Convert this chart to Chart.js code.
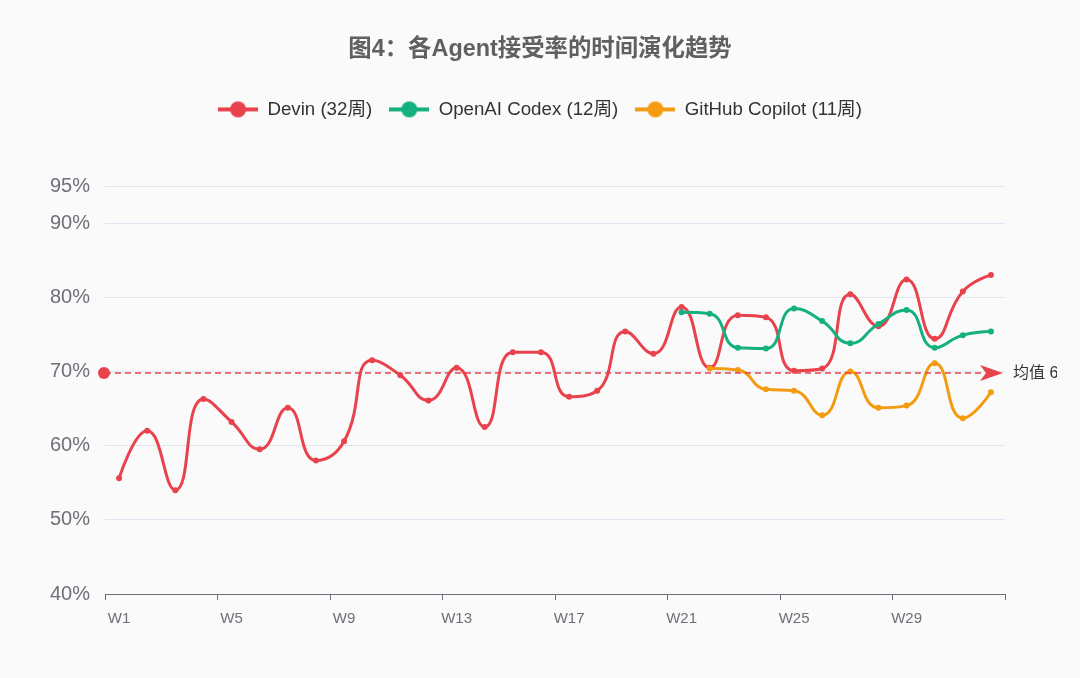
<!DOCTYPE html>
<html>
<head>
<meta charset="utf-8">
<script src="https://cdn.jsdelivr.net/npm/chart.js@4.4.1/dist/chart.umd.min.js"></script>
<style>
html, body { margin: 0; padding: 0; background: #fafafa; }
#wrap { width: 1080px; height: 678px; position: relative; }
</style>
</head>
<body>
<div id="wrap"><canvas id="c" width="1080" height="678"></canvas></div>
<script>
const FONT = "'Liberation Sans', 'Noto Sans CJK SC', sans-serif";

// ---- data ----
const weeks = ['W1','W2','W3','W4','W5','W6','W7','W8','W9','W10','W11','W12','W13','W14','W15','W16',
               'W17','W18','W19','W20','W21','W22','W23','W24','W25','W26','W27','W28','W29','W30','W31','W32'];
const devinRate = [55.6, 62.0, 54.0, 66.3, 63.2, 59.5, 65.1, 58.0, 60.6, 71.5, 69.5, 66.1, 70.5, 62.5, 72.6, 72.6,
                   66.6, 67.4, 75.4, 72.4, 78.7, 70.5, 77.6, 77.3, 70.1, 70.4, 80.4, 76.1, 82.4, 74.4, 80.8, 83.0];
const codexRate = [78.0, 77.8, 73.2, 73.1, 78.5, 76.8, 73.8, 76.4, 78.3, 73.2, 74.9, 75.4];
const copilotRate = [70.4, 70.2, 67.6, 67.4, 64.1, 70.0, 65.1, 65.4, 71.1, 63.7, 67.2];
const codexStartWeek = 21;
const copilotStartWeek = 22;
const yTicks = [40, 50, 60, 70, 80, 90, 95];
const seriesNames = ['Devin (32周)', 'OpenAI Codex (12周)', 'GitHub Copilot (11周)'];
const seriesColors = ['#e8434c', '#14b07f', '#f39c12'];
const titleText = '图4：各Agent接受率的时间演化趋势';
const meanLabelPrefix = '均值 ';

// align a shorter series to the week axis
const alignToWeeks = (arr, startWeek) =>
  weeks.map((_, i) => {
    const k = i - (startWeek - 1);
    return (k >= 0 && k < arr.length) ? arr[k] : null;
  });

// legend marker: line with circle
function legendMarker(color) {
  const c = document.createElement('canvas');
  c.width = 40; c.height = 18;
  const g = c.getContext('2d');
  g.strokeStyle = color; g.lineWidth = 4;
  g.beginPath(); g.moveTo(0, 9); g.lineTo(40, 9); g.stroke();
  g.fillStyle = color;
  g.beginPath(); g.arc(20, 9, 8, 0, Math.PI * 2); g.fill();
  return c;
}
const markers = seriesColors.map(legendMarker);

// ECharts-like smoothing of bezier control points (no overshoot)
const smoothPlugin = {
  id: 'smoothPlugin',
  beforeDatasetDraw(chart, args) {
    const meta = args.meta;
    const line = meta.dataset;
    if (!line) return;
    const pts = meta.data.filter(p => !p.skip);
    const n = pts.length;
    if (n < 2) return;
    const s = 0.5;
    pts[0].cp1x = pts[0].x; pts[0].cp1y = pts[0].y;
    pts[0].cp2x = pts[0].x; pts[0].cp2y = pts[0].y;
    for (let i = 1; i < n; i++) {
      const p = pts[i], prev = pts[i - 1];
      const x = p.x, y = p.y;
      if (i === n - 1) {
        p.cp1x = x; p.cp1y = y; p.cp2x = x; p.cp2y = y;
        continue;
      }
      const next = pts[i + 1];
      const prevX = prev.x, prevY = prev.y, nextX = next.x, nextY = next.y;
      let vx = nextX - prevX, vy = nextY - prevY;
      const dx0 = x - prevX, dy0 = y - prevY, dx1 = nextX - x, dy1 = nextY - y;
      const lenPrev = Math.sqrt(dx0 * dx0 + dy0 * dy0);
      const lenNext = Math.sqrt(dx1 * dx1 + dy1 * dy1);
      const ratio = lenNext / (lenNext + lenPrev);
      let ncx = x + vx * s * ratio;
      let ncy = y + vy * s * ratio;
      ncx = Math.max(Math.min(ncx, Math.max(nextX, x)), Math.min(nextX, x));
      ncy = Math.max(Math.min(ncy, Math.max(nextY, y)), Math.min(nextY, y));
      vx = ncx - x; vy = ncy - y;
      let c1x = x - vx * lenPrev / lenNext;
      let c1y = y - vy * lenPrev / lenNext;
      c1x = Math.max(Math.min(c1x, Math.max(prevX, x)), Math.min(prevX, x));
      c1y = Math.max(Math.min(c1y, Math.max(prevY, y)), Math.min(prevY, y));
      vx = x - c1x; vy = y - c1y;
      ncx = x + vx * lenNext / lenPrev;
      ncy = y + vy * lenNext / lenPrev;
      p.cp1x = c1x; p.cp1y = c1y; p.cp2x = ncx; p.cp2y = ncy;
    }
    line._pointsUpdated = true;
    line._path = undefined;
  }
};

// average mark line of the Devin series
const meanLinePlugin = {
  id: 'meanLinePlugin',
  afterDatasetsDraw(chart) {
    const { ctx, chartArea: { left, right }, scales: { y } } = chart;
    const mean = devinRate.reduce((a, b) => a + b, 0) / devinRate.length;
    const py = y.getPixelForValue(mean);
    const col = seriesColors[0];
    const tip = right - 2;
    ctx.save();
    ctx.strokeStyle = col; ctx.lineWidth = 1.5; ctx.setLineDash([6, 4]);
    ctx.beginPath(); ctx.moveTo(left, py); ctx.lineTo(tip - 18, py); ctx.stroke();
    ctx.setLineDash([]);
    ctx.fillStyle = col;
    ctx.beginPath(); ctx.arc(left - 1, py, 6, 0, Math.PI * 2); ctx.fill();
    ctx.beginPath();
    ctx.moveTo(tip, py); ctx.lineTo(tip - 23, py - 8); ctx.lineTo(tip - 17, py); ctx.lineTo(tip - 23, py + 8);
    ctx.closePath(); ctx.fill();
    ctx.beginPath(); ctx.rect(0, 0, 1057, chart.height); ctx.clip();
    ctx.fillStyle = '#333'; ctx.font = '16px ' + FONT;
    ctx.textBaseline = 'middle'; ctx.textAlign = 'left';
    ctx.fillText(meanLabelPrefix + mean.toFixed(1) + '%', tip + 10, py);
    ctx.restore();
  }
};

Chart.defaults.font.family = FONT;

const mk = (i, data, order) => ({
  label: seriesNames[i],
  data,
  order,
  yAxisID: 'y',
  borderColor: seriesColors[i],
  backgroundColor: seriesColors[i],
  pointBackgroundColor: seriesColors[i],
  pointBorderColor: seriesColors[i],
  borderWidth: 3,
  pointRadius: 3,
  pointHoverRadius: 3,
  pointBorderWidth: 0,
  tension: 0.5,
  fill: false
});

new Chart(document.getElementById('c'), {
  type: 'line',
  data: {
    labels: weeks,
    datasets: [
      mk(0, devinRate, 3),
      mk(1, alignToWeeks(codexRate, codexStartWeek), 2),
      mk(2, alignToWeeks(copilotRate, copilotStartWeek), 1)
    ]
  },
  options: {
    responsive: false,
    animation: false,
    events: [],
    layout: { padding: { left: 0, right: 0, top: 0, bottom: 40 } },
    plugins: {
      title: {
        display: true, text: titleText, color: '#606060',
        font: { size: 23.4, weight: 'bold', family: FONT },
        padding: { top: 36, bottom: 19 }
      },
      legend: {
        display: true,
        labels: {
          usePointStyle: true, pointStyleWidth: 40, boxHeight: 19, padding: 17,
          color: '#333', font: { size: 18.7, family: FONT },
          generateLabels: (chart) => {
            const items = Chart.defaults.plugins.legend.labels.generateLabels(chart);
            items.sort((a, b) => a.datasetIndex - b.datasetIndex);
            return items.map(it => Object.assign(it, { pointStyle: markers[it.datasetIndex] }));
          }
        }
      },
      subtitle: {
        display: true, text: '', weight: 500,
        font: { size: 10, lineHeight: 1 },
        padding: { top: 47.3, bottom: 0 }
      },
      tooltip: { enabled: false }
    },
    scales: {
      x: {
        offset: true,
        grid: {
          offset: true, drawOnChartArea: false, drawTicks: true, tickLength: 6, lineWidth: 1,
          color: c => (c.type !== 'tick' || c.index % 4 === 0) ? '#6e7079' : 'rgba(0,0,0,0)'
        },
        border: { display: true, color: '#6e7079', width: 1 },
        ticks: {
          autoSkip: false, maxRotation: 0, minRotation: 0, padding: 10,
          color: '#6e7079', font: { size: 15 },
          callback: (v, i) => (i % 4 === 0 ? weeks[i] : '')
        }
      },
      y: {
        position: 'left',
        min: 40, max: 95,
        afterBuildTicks: s => { s.ticks = yTicks.map(v => ({ value: v })); },
        afterFit: s => { s.width = 105; },
        grid: {
          drawTicks: false, lineWidth: 1,
          color: c => (c.tick && c.tick.value === yTicks[0]) ? 'rgba(0,0,0,0)' : '#e0e6f1'
        },
        border: { display: false },
        ticks: { padding: 15, color: '#6e7079', font: { size: 20 }, callback: v => v + '%' }
      },
      yRight: {
        position: 'right',
        display: true,
        min: 0, max: 1,
        afterFit: s => { s.width = 75; },
        grid: { display: false, drawOnChartArea: false },
        border: { display: false },
        ticks: { display: false }
      }
    }
  },
  plugins: [smoothPlugin, meanLinePlugin]
});
</script>
</body>
</html>
